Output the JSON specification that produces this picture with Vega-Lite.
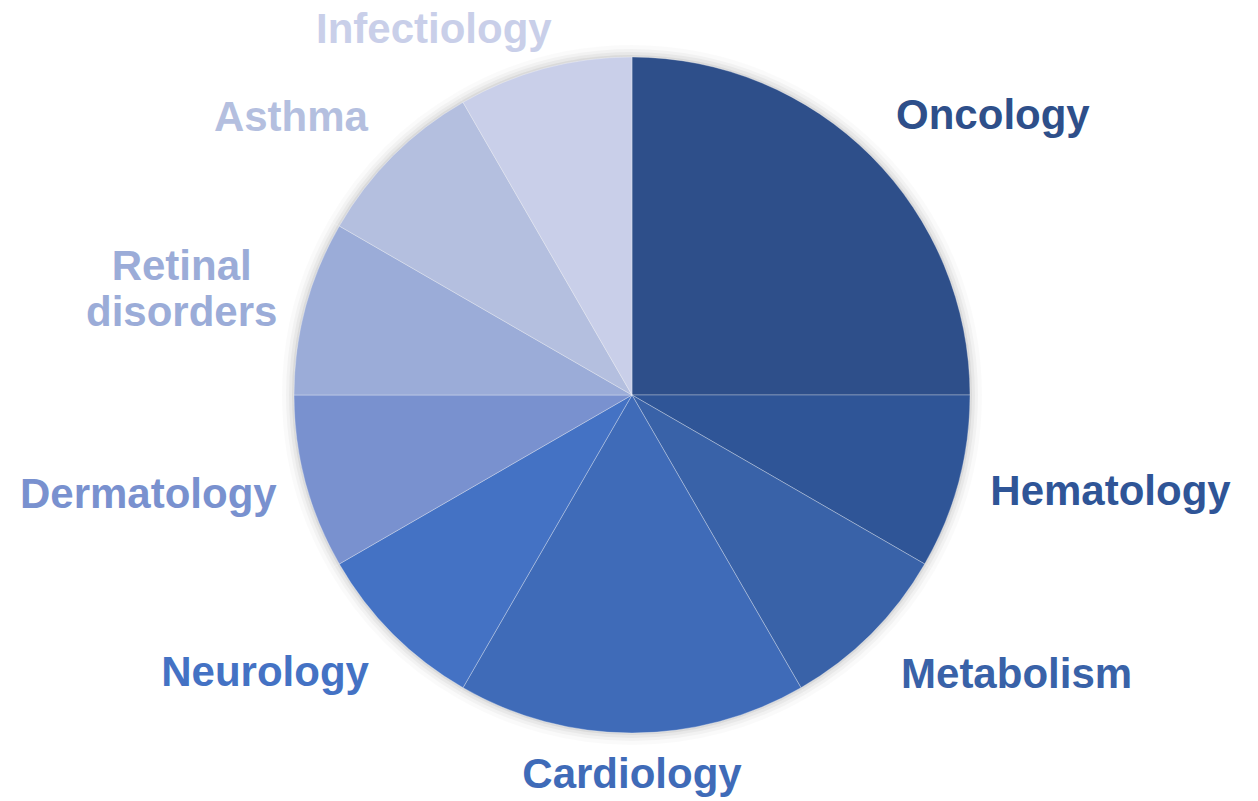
{
  "$schema": "https://vega.github.io/schema/vega-lite/v6.json",
  "width": 1264,
  "height": 790,
  "autosize": "none",
  "padding": {"top": 0, "left": 0, "right": 0, "bottom": 11},
  "background": "#ffffff",
  "config": {"view": {"stroke": null}},
  "data": {
    "values": [
      {"cat": "Oncology", "value": 3, "idx": 1},
      {"cat": "Hematology", "value": 1, "idx": 2},
      {"cat": "Metabolism", "value": 1, "idx": 3},
      {"cat": "Cardiology", "value": 2, "idx": 4},
      {"cat": "Neurology", "value": 1, "idx": 5},
      {"cat": "Dermatology", "value": 1, "idx": 6},
      {"cat": "Retinal disorders", "value": 1, "idx": 7},
      {"cat": "Asthma", "value": 1, "idx": 8},
      {"cat": "Infectiology", "value": 1, "idx": 9}
    ]
  },
  "encoding": {
    "theta": {"field": "value", "type": "quantitative", "stack": true},
    "order": {"field": "idx", "type": "quantitative"},
    "color": {
      "field": "cat",
      "type": "nominal",
      "legend": null,
      "scale": {
        "domain": ["Oncology", "Hematology", "Metabolism", "Cardiology", "Neurology", "Dermatology", "Retinal disorders", "Asthma", "Infectiology"],
        "range": ["#2E4F8A", "#2F5597", "#3962A8", "#3F6BB8", "#4472C4", "#7991CF", "#9BACD8", "#B4BFDF", "#C9CFE9"]
      }
    }
  },
  "layer": [
    {
      "mark": {"type": "arc", "radius": 350, "fill": "#000000", "fillOpacity": 0.02, "strokeWidth": 0}
    },
    {
      "mark": {"type": "arc", "radius": 346, "fill": "#000000", "fillOpacity": 0.03, "strokeWidth": 0}
    },
    {
      "mark": {"type": "arc", "radius": 343, "fill": "#000000", "fillOpacity": 0.04, "strokeWidth": 0}
    },
    {
      "mark": {"type": "arc", "radius": 340, "fill": "#000000", "fillOpacity": 0.06, "strokeWidth": 0}
    },
    {
      "mark": {"type": "arc", "radius": 338, "stroke": "#ffffff", "strokeWidth": 0.5, "strokeOpacity": 0.6}
    },
    {
      "mark": {
        "type": "text",
        "radius": 372,
        "font": "Liberation Sans",
        "fontWeight": "bold",
        "fontSize": 42,
        "lineBreak": " ",
        "lineHeight": 46,
        "align": {"expr": "{'Oncology':'left','Hematology':'left','Metabolism':'left','Cardiology':'center','Neurology':'right','Dermatology':'right','Retinal disorders':'center','Asthma':'right','Infectiology':'right'}[datum.cat]"},
        "baseline": {"expr": "{'Oncology':'bottom','Hematology':'middle','Metabolism':'top','Cardiology':'top','Neurology':'top','Dermatology':'middle','Retinal disorders':'alphabetic','Asthma':'bottom','Infectiology':'bottom'}[datum.cat]"},
        "dx": {"expr": "{'Oncology':1,'Hematology':-1,'Metabolism':6,'Cardiology':0,'Neurology':0,'Dermatology':4,'Retinal disorders':-91,'Asthma':-1,'Infectiology':16}[datum.cat]"},
        "dy": {"expr": "{'Oncology':6,'Hematology':1,'Metabolism':-3,'Cardiology':-12,'Neurology':-5,'Dermatology':4,'Retinal disorders':-19,'Asthma':8,'Infectiology':16}[datum.cat]"}
      },
      "encoding": {
        "text": {"field": "cat", "type": "nominal"}
      }
    }
  ]
}
